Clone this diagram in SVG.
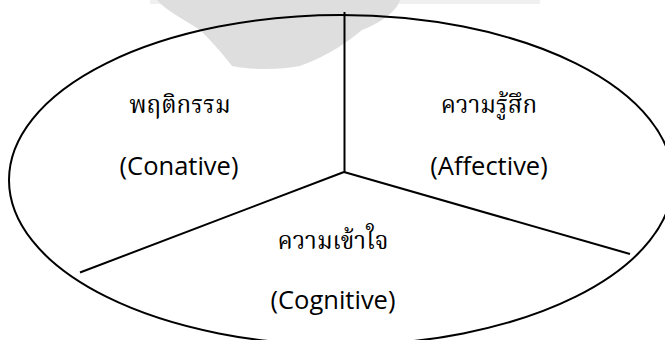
<svg xmlns="http://www.w3.org/2000/svg" width="665" height="340" viewBox="0 0 665 340">
<style>
.th{font-family:"Norasi","Kinnari","Noto Serif Thai","Noto Sans Thai","Garuda","Loma",serif;font-size:24px;fill:#000;text-anchor:middle}
.en{font-family:"Open Sans","Lato",sans-serif;font-size:25.5px;fill:#000;text-anchor:middle}
.ln{stroke:#000;stroke-width:2;fill:none}
</style>
<rect width="665" height="340" fill="#fff"/>
<g id="watermark">
<rect x="150" y="0" width="390" height="4" fill="#f0f0f0"/>
<path d="M157,0 L400,0 C395,15 375,25 362,30 C350,40 330,55 300,66 C280,70 250,70 232,66 C220,50 205,35 200,30 C185,20 165,10 157,0 Z" fill="#dedede"/>
</g>
<g id="ellipse">
<ellipse cx="341" cy="180" rx="332" ry="165" class="ln"/>
</g>
<g id="connectors">
<line x1="344.5" y1="12" x2="344.5" y2="172" class="ln"/>
<line x1="344" y1="172" x2="80" y2="272.5" class="ln"/>
<line x1="344" y1="172" x2="630" y2="254" class="ln"/>
</g>
<g id="conative">
<text class="th" x="180" y="113">พฤติกรรม</text>
<text class="en" x="179" y="175">(Conative)</text>
</g>
<g id="affective">
<text class="th" x="489" y="113">ความรู้สึก</text>
<text class="en" x="489" y="175">(Affective)</text>
</g>
<g id="cognitive">
<text class="th" x="333" y="249">ความเข้าใจ</text>
<text class="en" x="333" y="309">(Cognitive)</text>
</g>
</svg>
